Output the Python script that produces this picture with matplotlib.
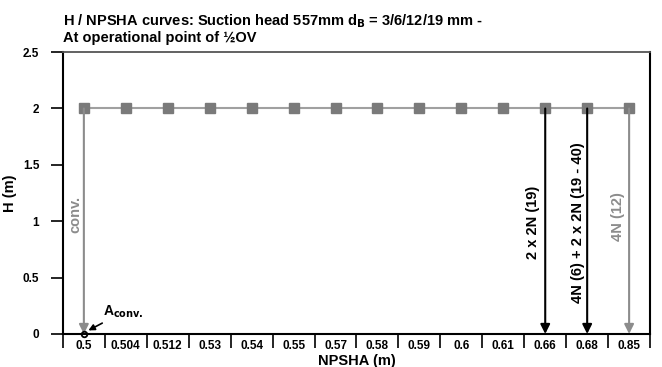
import matplotlib
matplotlib.use("Agg")
import matplotlib.pyplot as plt
from matplotlib.ticker import FixedLocator

plt.rcParams['font.family'] = ['Liberation Sans', 'DejaVu Sans']
plt.rcParams['font.weight'] = 'bold'

# data
npsha_labels = ['0.5', '0.504', '0.512', '0.53', '0.54', '0.55', '0.57',
                '0.58', '0.59', '0.6', '0.61', '0.66', '0.68', '0.85']
head = [2, 2, 2, 2, 2, 2, 2, 2, 2, 2, 2, 2, 2, 2]

# drop arrows: category label, text, colour, text height
drops = [('0.5', 'conv.', '#8c8c8c', 1.06),
         ('0.66', '2 x 2N (19)', 'black', 0.99),
         ('0.68', '4N (6) + 2 x 2N (19 - 40)', 'black', 0.99),
         ('0.85', '4N (12)', '#8c8c8c', 1.04)]
text_offset = {'0.5': -0.21, '0.66': -0.28, '0.68': -0.22, '0.85': -0.26}

fig = plt.figure(figsize=(6.62, 3.67), dpi=100)
ax = fig.add_axes([0.095, 0.09, 0.887, 0.768])

x = list(range(len(npsha_labels)))
ax.plot(x, head, color='#a0a0a0', lw=1.5, marker='s', ms=7.5,
        mfc='#7a7a7a', mec='#7a7a7a', zorder=3)

for lab, txt, col, ty in drops:
    i = npsha_labels.index(lab)
    ax.annotate('', xy=(i, 0), xytext=(i, head[i]),
                arrowprops=dict(arrowstyle='-|>', color=col, lw=1.5,
                                mutation_scale=14, shrinkA=0, shrinkB=0))
    ax.text(i + text_offset[lab], ty, txt, rotation=90, color=col,
            ha='center', va='center', fontsize=10.5, fontweight='bold')

# operating point A_conv.
ax.plot([0], [0], 'o', ms=4, mfc='none', mec='black', mew=1.3, zorder=4,
        clip_on=False)
ax.annotate(r'A$_{\mathbf{conv.}}$', xy=(0.05, 0.02), xytext=(0.45, 0.16),
            fontsize=10, fontweight='bold',
            arrowprops=dict(arrowstyle='-|>', color='black', lw=1.2,
                            mutation_scale=9, shrinkA=0, shrinkB=2))

ax.set_xlim(-0.5, len(npsha_labels) - 0.5)
ax.set_ylim(0, 2.5)
ax.set_yticks([0, 0.5, 1, 1.5, 2, 2.5])
ax.set_yticklabels(['0', '0.5', '1', '1.5', '2', '2.5'])
ax.set_xticks(x)
ax.set_xticklabels(npsha_labels)
ax.xaxis.set_minor_locator(FixedLocator([i - 0.5 for i in range(len(x) + 1)]))
ax.tick_params(axis='x', which='major', length=0, pad=4, labelsize=8.5)
ax.tick_params(axis='x', which='minor', length=10, width=1.2)
ax.tick_params(axis='y', length=9, width=1.2, labelsize=8.5, pad=8)

for side in ['left', 'bottom', 'right']:
    ax.spines[side].set_linewidth(1.5)
ax.spines['top'].set_linewidth(1.3)
ax.spines['top'].set_color('#555555')

ax.set_xlabel('NPSHA (m)', fontsize=10.5, fontweight='bold', labelpad=1)
ax.set_ylabel('H (m)', fontsize=10.5, fontweight='bold', labelpad=4)
ax.set_title('H / NPSHA curves: Suction head 557mm d$_{\\mathbf{B}}$ = 3/6/12/19 mm -\n'
             'At operational point of ½OV', loc='left', fontsize=10.5,
             fontweight='bold', pad=7, linespacing=1.1)

fig.savefig('out.png', dpi=100)
